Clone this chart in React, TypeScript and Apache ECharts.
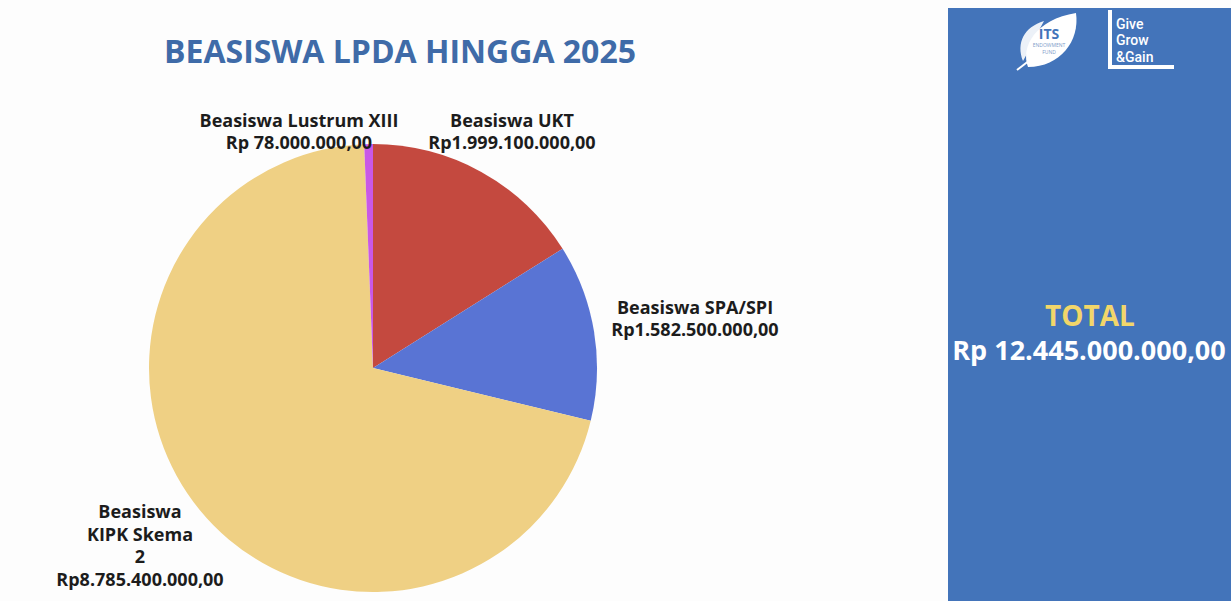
import React, { useEffect, useRef } from 'react';
import * as echarts from 'echarts';

const categories = ['Beasiswa UKT', 'Beasiswa SPA/SPI', 'Beasiswa\nKIPK Skema\n2', 'Beasiswa Lustrum XIII'];
const values = [1999100000, 1582500000, 8785400000, 78000000];
const valuePrefixes = ['Rp', 'Rp', 'Rp', 'Rp '];
const sliceColors = ['#C4493F', '#5974D4', '#EFD084', '#C958E6'];
const titleText = 'BEASISWA LPDA HINGGA 2025';
const totalLabel = 'TOTAL';
const totalValue = 12445000000;
const totalPrefix = 'Rp ';

function formatIDR(v: number): string {
  const intPart = Math.floor(v).toString().replace(/\B(?=(\d{3})+(?!\d))/g, '.');
  return intPart + ',00';
}

// label anchor positions (layout only)
const labelAnchors: number[][] = [[512, 131], [695, 318], [140, 545], [299, 131]];
const labelLineHeights = [22, 22, 22.5, 22];

const leafMain = 'M10 56 C 2 36, 18 8, 58 2 C 62 30, 42 56, 10 56 Z';
const leafBack = 'M5 50 C -2 32, 6 16, 26 10 C 18 24, 12 38, 5 50 Z';

let registered = false;
function registerShapes() {
  if (registered) return;
  registered = true;
  echarts.graphic.registerShape('leafMain', echarts.graphic.extendPath(leafMain, {}) as any);
  echarts.graphic.registerShape('leafBack', echarts.graphic.extendPath(leafBack, {}) as any);
}

export default function App() {
  const ref = useRef<HTMLDivElement>(null);
  useEffect(() => {
    if (!ref.current) return;
    registerShapes();
    const chart = echarts.init(ref.current, undefined, { renderer: 'svg' });
    const font = '"Open Sans", "Noto Sans", sans-serif';
    const data = categories.map((name, i) => ({
      name,
      value: values[i],
      itemStyle: { color: sliceColors[i] },
      label: { lineHeight: labelLineHeights[i] },
    }));
    chart.setOption({
      animation: false,
      backgroundColor: '#fdfdfd',
      graphic: [
        { type: 'rect', shape: { x: 948, y: 8, width: 283, height: 593 }, style: { fill: '#4374BA' }, silent: true },
        {
          type: 'text', x: 400, y: 50,
          style: { text: titleText, fill: '#3F6BA8', font: `bold 32px ${font}`, align: 'center', verticalAlign: 'middle' },
        },
        {
          type: 'text', x: 1090, y: 315,
          style: { text: totalLabel, fill: '#F2D66A', font: `bold 28px ${font}`, align: 'center', verticalAlign: 'middle' },
        },
        {
          type: 'text', x: 1089, y: 349,
          style: { text: totalPrefix + formatIDR(totalValue), fill: '#ffffff', font: `bold 27px ${font}`, align: 'center', verticalAlign: 'middle' },
        },
        // ITS Endowment Fund logo
        { type: 'leafBack', x: 1018, y: 11, style: { fill: '#ffffff', opacity: 0.9 } },
        { type: 'leafMain', x: 1018, y: 11, style: { fill: '#ffffff' } },
        { type: 'line', shape: { x1: 1030, y1: 60, x2: 1017, y2: 70 }, style: { stroke: '#ffffff', lineWidth: 2 } },
        {
          type: 'text', x: 1049, y: 40,
          style: {
            text: '{a|ITS}\n{b|ENDOWMENT}\n{b|FUND}', align: 'center', verticalAlign: 'middle',
            rich: {
              a: { fill: '#4374BA', font: `bold 14px ${font}`, lineHeight: 17, align: 'center' },
              b: { fill: '#7E9CC8', font: `5px ${font}`, lineHeight: 6.5, align: 'center' },
            },
          },
        },
        // Give Grow & Gain logo
        { type: 'rect', shape: { x: 1108, y: 10, width: 4, height: 59 }, style: { fill: '#ffffff' } },
        { type: 'rect', shape: { x: 1108, y: 65, width: 66, height: 4 }, style: { fill: '#ffffff' } },
        {
          type: 'text', x: 1116, y: 40,
          style: { text: 'Give\nGrow\n&Gain', fill: '#ffffff', font: `500 14px Roboto, sans-serif`, lineHeight: 16.5, verticalAlign: 'middle' },
        },
      ],
      series: [
        {
          type: 'pie',
          center: [373, 368],
          radius: 224,
          startAngle: 90,
          clockwise: true,
          silent: true,
          data,
          label: {
            show: true,
            position: 'outside',
            color: '#1c1c1c',
            fontFamily: font,
            fontWeight: 'bold',
            fontSize: 18,
            align: 'center',
            overflow: 'none',
            formatter: (p: any) => `${p.name}\n${valuePrefixes[p.dataIndex]}${formatIDR(p.value)}`,
          },
          labelLine: { show: false },
          labelLayout: (p: any) => ({
            x: labelAnchors[p.dataIndex][0],
            y: labelAnchors[p.dataIndex][1],
            align: 'center',
            verticalAlign: 'middle',
          }),
        },
      ],
    });
    return () => chart.dispose();
  }, []);
  return <div ref={ref} style={{ position: 'absolute', left: 0, top: 0, width: 1231, height: 601 }} />;
}
